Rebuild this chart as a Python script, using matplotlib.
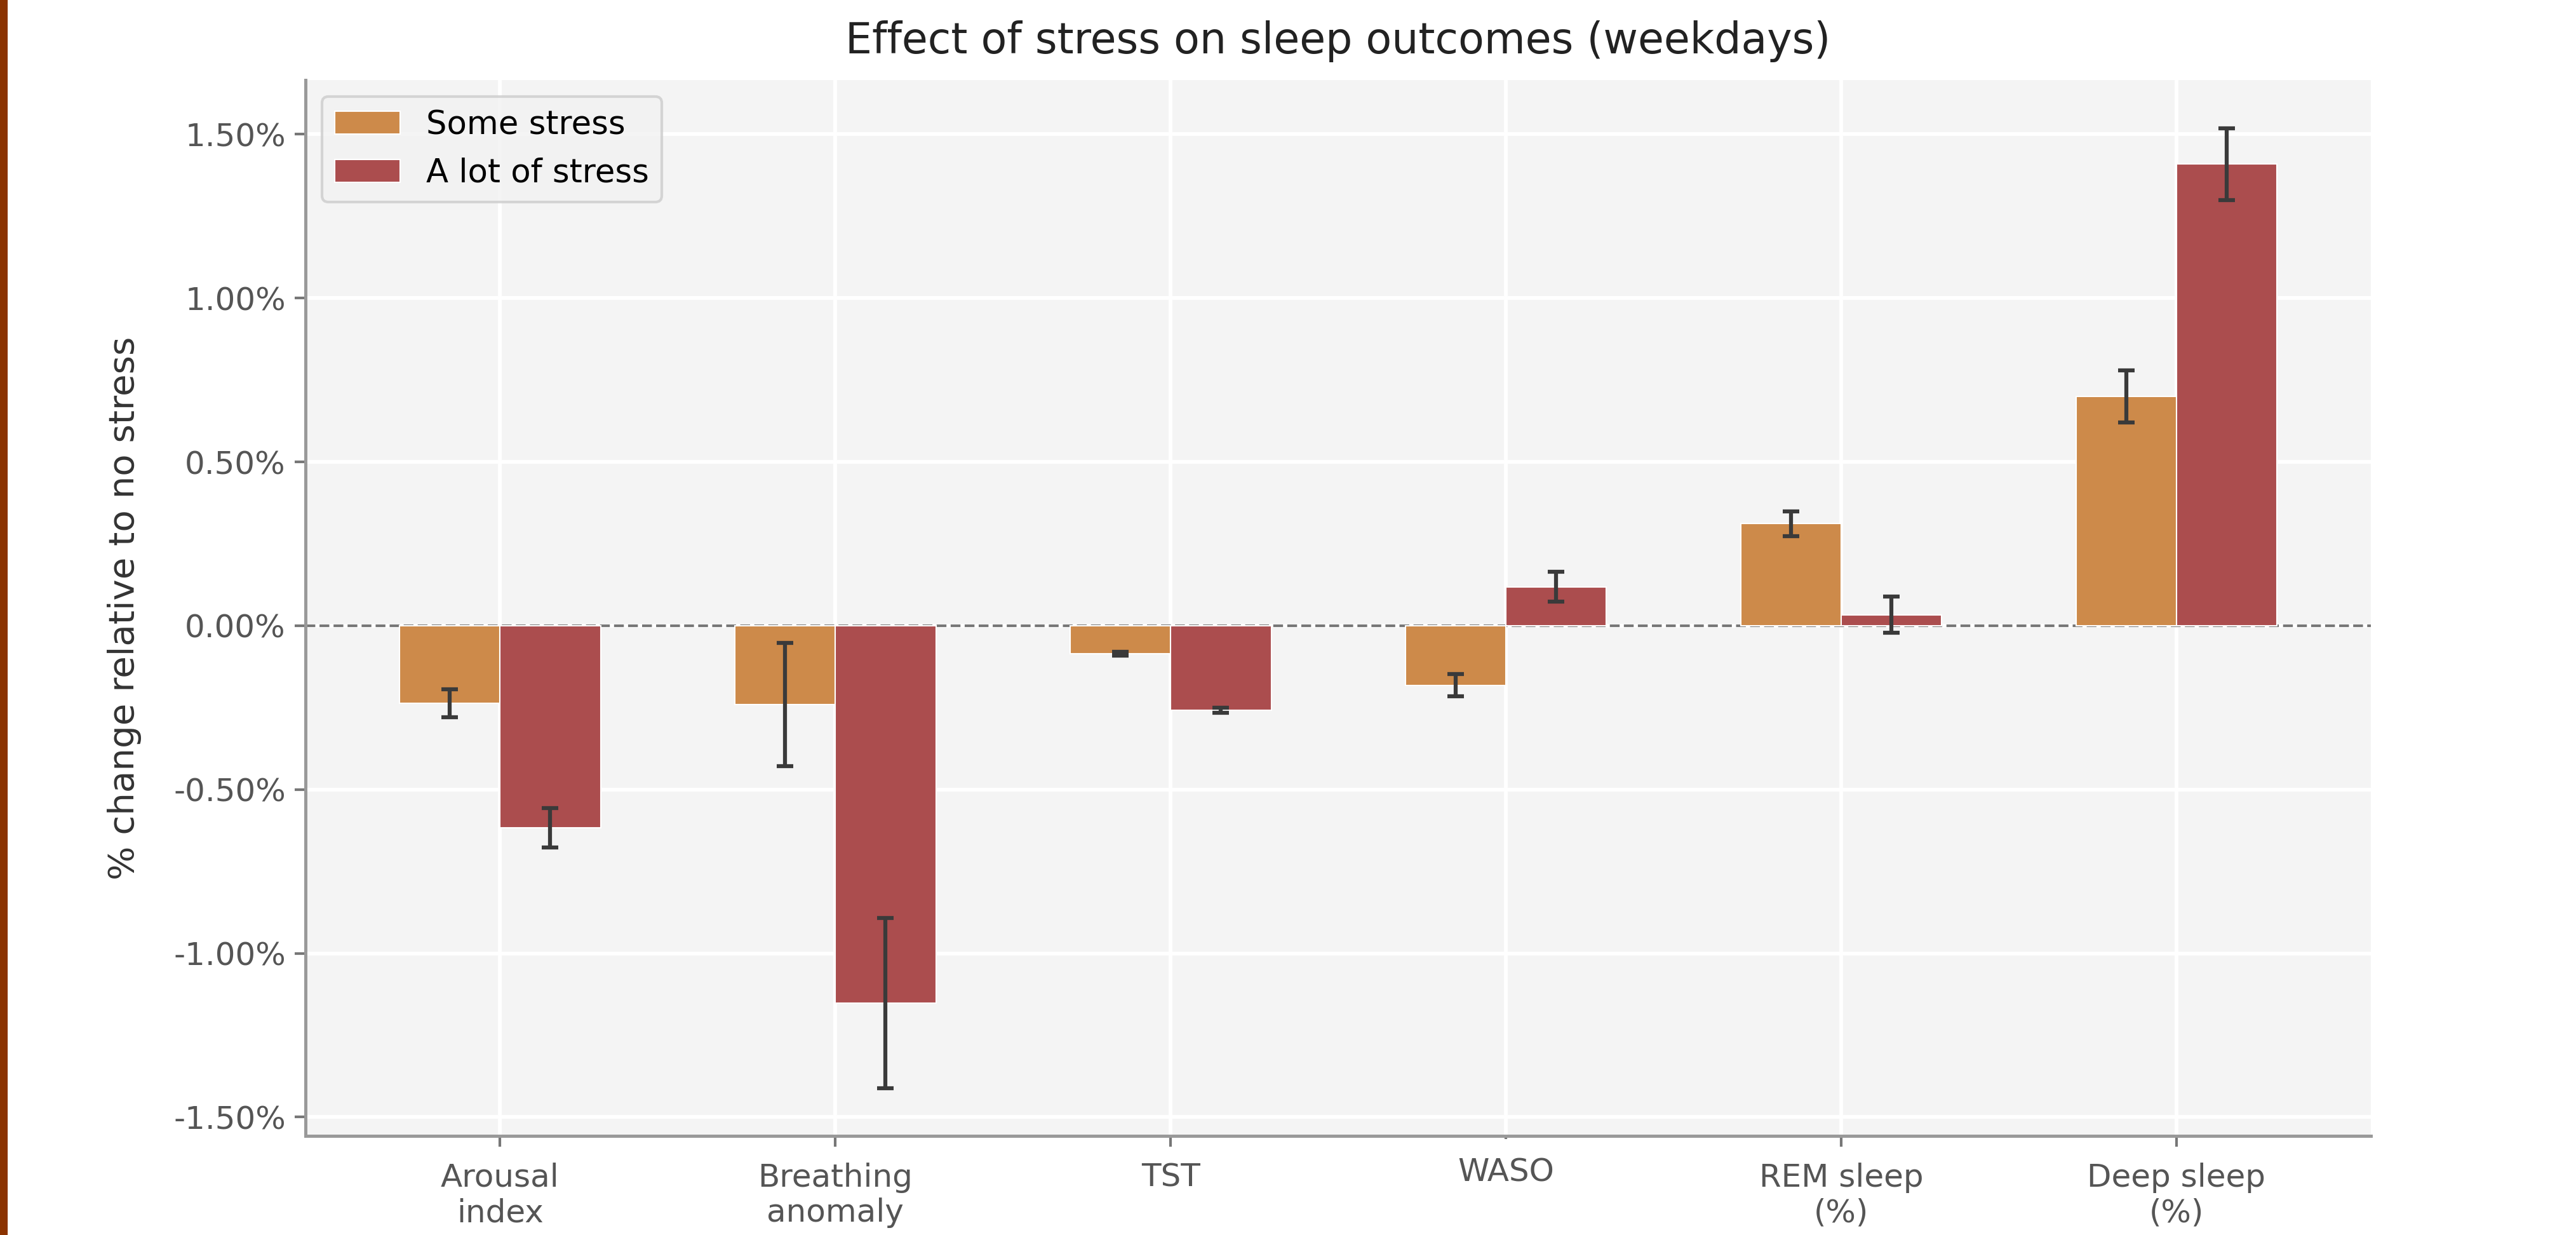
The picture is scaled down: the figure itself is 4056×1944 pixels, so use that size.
import numpy as np
import matplotlib.pyplot as plt
from matplotlib.patches import Rectangle
from matplotlib.ticker import FuncFormatter

# values (percent change vs no stress)
categories = ["Arousal\nindex", "Breathing\nanomaly", "TST", "WASO",
              "REM sleep\n(%)", "Deep sleep\n(%)"]
some_stress = [-0.237, -0.240, -0.085, -0.182, 0.311, 0.700]
some_err = [0.042, 0.188, 0.006, 0.034, 0.038, 0.080]
lot_stress = [-0.617, -1.152, -0.258, 0.119, 0.033, 1.409]
lot_err = [0.060, 0.259, 0.008, 0.046, 0.055, 0.110]

c_some = "#CD8A4A"
c_lot = "#AB4D4E"

plt.rcParams["font.family"] = "DejaVu Sans"

fig = plt.figure(figsize=(13.52, 6.48), dpi=300)
ax = fig.add_axes([0.1186, 0.0802, 0.9204 - 0.1186, 0.9352 - 0.0802])
ax.set_facecolor("#F4F4F4")
ax.set_axisbelow(True)

x = np.arange(len(categories))
w = 0.3
err_kw = dict(ecolor="#3a3a3a", elinewidth=1.5, capsize=3.2, capthick=1.5)
ax.bar(x - w / 2, some_stress, w, yerr=some_err, color=c_some,
       edgecolor="white", linewidth=0.5, label="Some stress", error_kw=err_kw)
ax.bar(x + w / 2, lot_stress, w, yerr=lot_err, color=c_lot,
       edgecolor="white", linewidth=0.5, label="A lot of stress", error_kw=err_kw)
ax.axhline(0, color="#777777", linestyle="--", linewidth=1.0, zorder=0.9)

ax.set_xticks(x)
ax.set_xticklabels(categories)
ax.yaxis.set_major_formatter(FuncFormatter(lambda v, p: f"{v:.2f}%"))
ax.set_yticks([-1.5, -1.0, -0.5, 0.0, 0.5, 1.0, 1.5])
ax.grid(True, color="white", linewidth=1.4)

for side in ["top", "right"]:
    ax.spines[side].set_visible(False)
for side in ["left", "bottom"]:
    ax.spines[side].set_color("#999999")
    ax.spines[side].set_linewidth(1.2)
ax.tick_params(axis="both", colors="#777777", labelcolor="#555555",
               labelsize=12, length=4, width=1.0)
ax.tick_params(axis="x", pad=6)

# the WASO tick sits a bit higher in the reference
waso = ax.xaxis.get_major_ticks()[3]
waso.tick1line.set_markersize(1.2)
waso.label1.set_y(0.005)

ax.set_ylabel("% change relative to no stress", fontsize=13.5,
              color="#333333", labelpad=12)
ax.set_title("Effect of stress on sleep outcomes (weekdays)", fontsize=16,
             color="#222222", pad=10)

leg = ax.legend(loc="upper left", fontsize=12.3, frameon=True, fancybox=True)
leg.get_frame().set_facecolor("#F2F2F2")
leg.get_frame().set_edgecolor("#CCCCCC")

# brown strip on the left edge of the screenshot
fig.patches.append(Rectangle((0, 0), 10 / 4056, 1, transform=fig.transFigure,
                             color="#8B3300", zorder=5))

fig.savefig("out.png", dpi=300)
